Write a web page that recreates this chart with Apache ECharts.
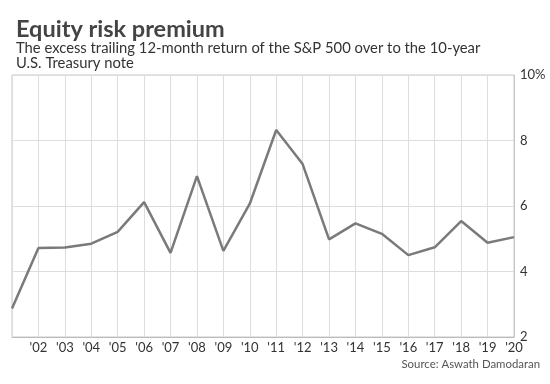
<!DOCTYPE html>
<html><head><meta charset="utf-8">
<script src="https://cdn.jsdelivr.net/npm/echarts@6/dist/echarts.min.js"></script>
<style>html,body{margin:0;padding:0;background:#fff}#c{width:550px;height:384px}</style>
</head><body><div id="c"></div>
<script>
const years = ["'01","'02","'03","'04","'05","'06","'07","'08","'09","'10","'11","'12","'13","'14","'15","'16","'17","'18","'19","'20"];
const premium = [2.87,4.72,4.73,4.85,5.21,6.12,4.57,6.91,4.63,6.07,8.32,7.28,4.98,5.47,5.15,4.50,4.74,5.54,4.88,5.05];
const yTicks = [2,4,6,8,10];

const chart = echarts.init(document.getElementById('c'), null, {renderer:'canvas'});
chart.setOption({
  animation:false,
  backgroundColor:'#fff',
  textStyle:{fontFamily:'Lato'},
  title:[
    {text:'Equity risk premium',left:11,top:12,textStyle:{fontFamily:'Lato',fontWeight:'bold',fontSize:23.5,color:'#444'}},
    {text:'The excess trailing 12-month return of the S&P 500 over to the 10-year\nU.S. Treasury note',left:11,top:35,textStyle:{fontFamily:'Lato',fontWeight:'normal',fontSize:14.8,lineHeight:15.5,color:'#333'}},
    {text:'Source: Aswath Damodaran',right:5,top:354,textStyle:{fontFamily:'Lato',fontWeight:'normal',fontSize:11.4,color:'#555'}}
  ],
  grid:{left:12,right:36,top:75,bottom:47,show:true,borderColor:'#c8c8c8',borderWidth:1},
  xAxis:{
    type:'category',boundaryGap:false,data:years,
    axisLine:{lineStyle:{color:'#bbb',width:1}},
    axisTick:{show:false},
    axisLabel:{interval:0,margin:4,fontSize:13,color:'#333',fontFamily:'Lato',formatter:(v,i)=>i===0?'':v},
    splitLine:{show:true,interval:0,lineStyle:{color:'#ddd',width:1}}
  },
  yAxis:{
    type:'value',position:'right',min:yTicks[0],max:yTicks[yTicks.length-1],interval:2,
    axisLine:{show:true,lineStyle:{color:'#c8c8c8'}},axisTick:{show:false},
    axisLabel:{margin:6,fontSize:13,color:'#333',fontFamily:'Lato',formatter:v=>v===10?'10%':String(v)},
    splitLine:{show:true,lineStyle:{color:'#ddd',width:1}}
  },
  series:[{type:'line',data:premium,symbol:'none',lineStyle:{color:'#7a7a7a',width:2.5},z:5}]
});
</script></body></html>
